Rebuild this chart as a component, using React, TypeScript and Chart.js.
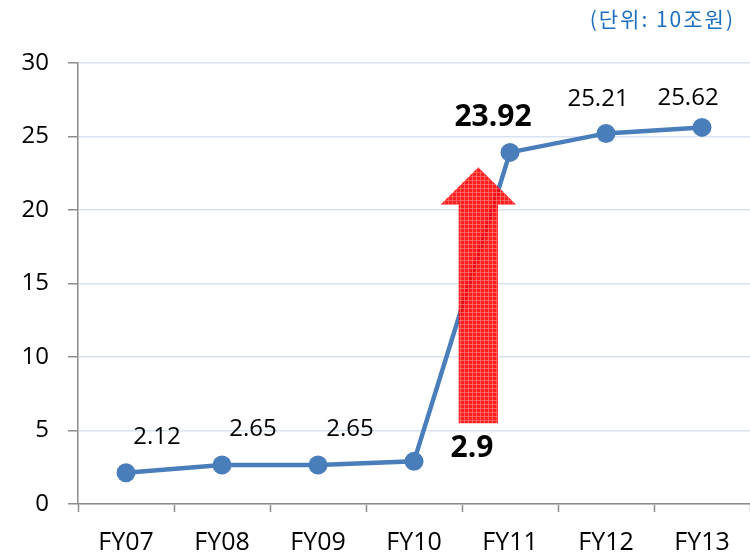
import React, { useEffect, useRef } from "react";
import { Chart, registerables } from "chart.js";

Chart.register(...registerables);

const categories = ["FY07", "FY08", "FY09", "FY10", "FY11", "FY12", "FY13"];
const values = [2.12, 2.65, 2.65, 2.9, 23.92, 25.21, 25.62];
const valueLabels = ["2.12", "2.65", "2.65", "2.9", "23.92", "25.21", "25.62"];
const boldLabels = [false, false, false, true, true, false, false];
const yTicks = [0, 5, 10, 15, 20, 25, 30];
const unitText = "(단위: 10조원)";
// arrow annotation in data units: category index position, from value, to value
const arrowX = 3.67;
const arrowFrom = 5.5;
const arrowHeadBase = 20.35;
const arrowTo = 22.9;

const labelOffsets: [number, number][] = [
  [31, -36],
  [31, -36],
  [32, -36],
  [58, -13],
  [-17, -35],
  [-8, -34],
  [-14, -29],
];

const NUM_FONT = "'Open Sans', 'Noto Sans', sans-serif";
const KR_FONT = "'Noto Sans CJK KR', 'Noto Sans', sans-serif";
const LINE_COLOR = "#4A7EBB";
const AXIS_COLOR = "#8C8C8C";
const GRID_COLOR = "#D9E2F1";

function makePattern(ctx: CanvasRenderingContext2D) {
  const c = document.createElement("canvas");
  c.width = 4;
  c.height = 4;
  const p = c.getContext("2d")!;
  p.fillStyle = "rgba(255,0,0,0.88)";
  p.fillRect(0, 0, 4, 4);
  p.fillStyle = "rgba(255,120,120,0.7)";
  p.fillRect(0, 0, 4, 1);
  p.fillRect(0, 0, 1, 4);
  return ctx.createPattern(c, "repeat")!;
}

const overlayPlugin = {
  id: "overlay",
  afterDatasetsDraw(chart: any) {
    const ctx: CanvasRenderingContext2D = chart.ctx;
    const xs = chart.scales.x;
    const ys = chart.scales.y;
    const step = xs.getPixelForValue(1) - xs.getPixelForValue(0);

    // arrow
    const cx = xs.getPixelForValue(arrowX);
    const shaftHalf = step * 0.205;
    const headHalf = step * 0.395;
    const yBottom = ys.getPixelForValue(arrowFrom);
    const yBase = ys.getPixelForValue(arrowHeadBase);
    const yTip = ys.getPixelForValue(arrowTo);
    ctx.save();
    ctx.fillStyle = makePattern(ctx);
    ctx.beginPath();
    ctx.moveTo(cx - shaftHalf, yBottom);
    ctx.lineTo(cx - shaftHalf, yBase);
    ctx.lineTo(cx - headHalf, yBase);
    ctx.lineTo(cx, yTip);
    ctx.lineTo(cx + headHalf, yBase);
    ctx.lineTo(cx + shaftHalf, yBase);
    ctx.lineTo(cx + shaftHalf, yBottom);
    ctx.closePath();
    ctx.fill();
    ctx.restore();

    // data labels
    const meta = chart.getDatasetMeta(0);
    ctx.save();
    ctx.textAlign = "center";
    ctx.textBaseline = "middle";
    ctx.fillStyle = "#000";
    meta.data.forEach((pt: any, i: number) => {
      const [dx, dy] = labelOffsets[i];
      ctx.font = boldLabels[i] ? `bold 30px ${NUM_FONT}` : `24px ${NUM_FONT}`;
      ctx.fillText(valueLabels[i], pt.x + dx, pt.y + dy);
    });
    ctx.restore();

    // unit text
    ctx.save();
    ctx.font = `21px ${KR_FONT}`;
    (ctx as any).letterSpacing = "2px";
    ctx.fillStyle = "#1F6FC0";
    ctx.textAlign = "right";
    ctx.textBaseline = "middle";
    ctx.fillText(unitText, chart.width - 15, 19);
    ctx.restore();
  },
};

export default function App() {
  const ref = useRef<HTMLCanvasElement>(null);
  useEffect(() => {
    if (!ref.current) return;
    const chart = new Chart(ref.current, {
      type: "line",
      data: {
        labels: categories,
        datasets: [
          {
            data: values,
            borderColor: LINE_COLOR,
            backgroundColor: LINE_COLOR,
            borderWidth: 4.5,
            pointRadius: 9.5,
            pointBackgroundColor: LINE_COLOR,
            pointBorderColor: LINE_COLOR,
            pointBorderWidth: 0,
            tension: 0,
          },
        ],
      },
      options: {
        animation: false,
        responsive: true,
        maintainAspectRatio: false,
        layout: { autoPadding: false, padding: { top: 63, left: 0, right: 0, bottom: 0 } },
        plugins: {
          legend: { display: false },
          tooltip: { enabled: false },
          title: { display: false },
        },
        scales: {
          x: {
            type: "category",
            offset: true,
            grid: {
              display: true,
              drawOnChartArea: false,
              drawTicks: true,
              tickLength: 8,
              tickColor: AXIS_COLOR,
              tickWidth: 1.5,
              offset: true,
            },
            border: { display: true, color: AXIS_COLOR, width: 1.5 },
            ticks: {
              color: "#000",
              font: { family: NUM_FONT, size: 25 },
              padding: 16,
              maxRotation: 0,
            },
            afterFit(scale: any) {
              scale.height = 51;
              scale.paddingLeft = 0;
              scale.paddingRight = 0;
            },
          },
          y: {
            min: 0,
            max: 30,
            afterBuildTicks(scale: any) {
              scale.ticks = yTicks.map((v) => ({ value: v }));
            },
            grid: {
              color: GRID_COLOR,
              lineWidth: 1.5,
              drawTicks: true,
              tickLength: 10,
              tickColor: AXIS_COLOR,
              tickWidth: 1.5,
            },
            border: { display: true, color: AXIS_COLOR, width: 1.5 },
            ticks: {
              color: "#000",
              font: { family: NUM_FONT, size: 24 },
              padding: 19,
            },
            afterFit(scale: any) {
              scale.width = 78;
            },
          },
        },
      },
      plugins: [overlayPlugin],
    });
    return () => chart.destroy();
  }, []);
  return (
    <div style={{ position: "fixed", left: 0, top: 0, width: 750, height: 555, background: "#fff" }}>
      <canvas ref={ref} />
    </div>
  );
}
